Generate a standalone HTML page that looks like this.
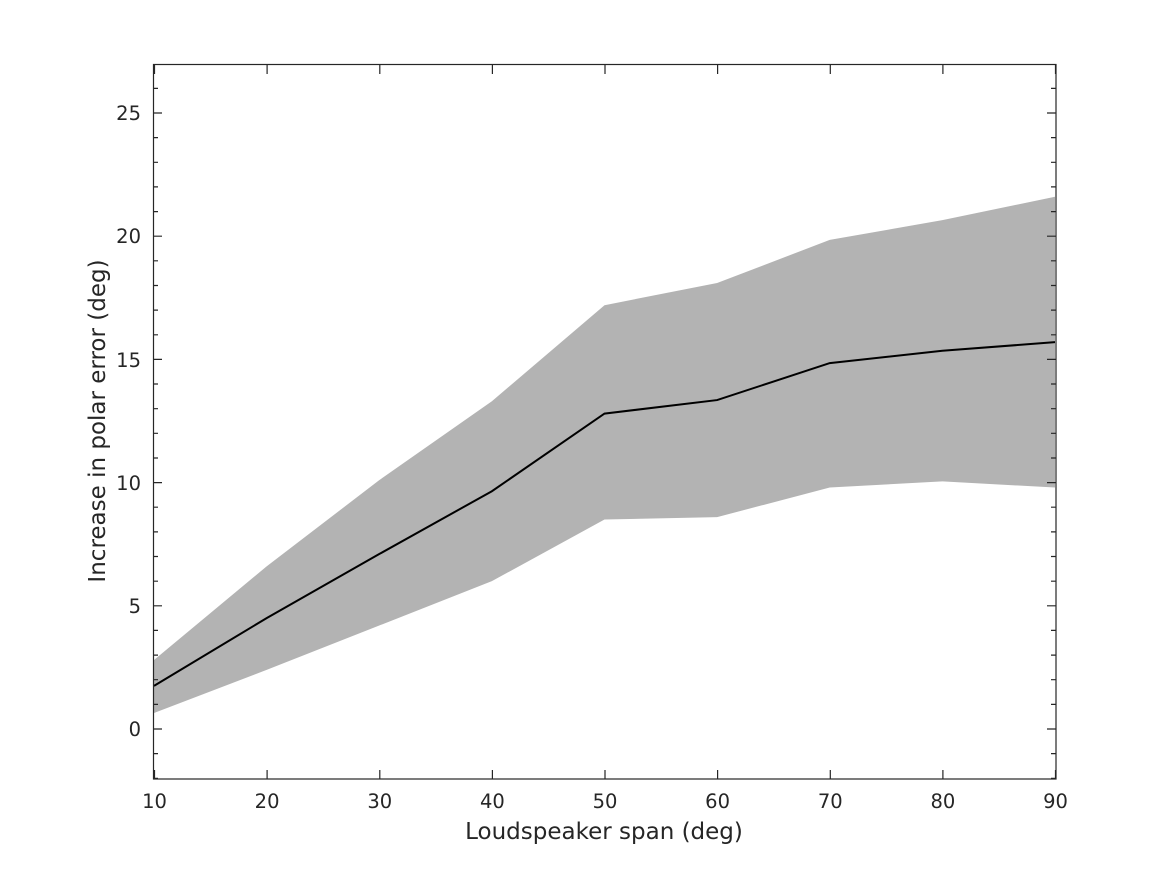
<!DOCTYPE html>
<html><head><meta charset="utf-8"><style>
html,body{margin:0;padding:0;background:#fff;}
svg{display:block;font-family:"DejaVu Sans","Liberation Sans",sans-serif;}
</style></head><body>
<svg width="1167" height="875" viewBox="0 0 1167 875" xmlns="http://www.w3.org/2000/svg">
<rect width="1167" height="875" fill="#fff"/>
<g transform="translate(41.375,729) scale(11.2625,-24.64)">
<polygon fill="#b3b3b3" points="10,2.8 20,6.6 30,10.1 40,13.3 50,17.2 60,18.1 70,19.85 80,20.65 90,21.6 90,9.8 80,10.05 70,9.8 60,8.6 50,8.5 40,6.0 30,4.2 20,2.4 10,0.65"/>
<polyline fill="none" stroke="#000" stroke-width="2" vector-effect="non-scaling-stroke" points="10,1.75 20,4.5 30,7.1 40,9.65 50,12.8 60,13.35 70,14.85 80,15.35 90,15.7"/>
</g>
<g stroke="#262626" stroke-width="1.2" fill="none">
<rect x="153.5" y="64.5" width="902.5" height="714.5"/>
<path d="
M154.5,779v-9 M267.1,779v-9 M379.8,779v-9 M492.4,779v-9 M605,779v-9 M717.6,779v-9 M830.3,779v-9 M942.9,779v-9 M1055.5,779v-9
M154.5,65v9 M267.1,65v9 M379.8,65v9 M492.4,65v9 M605,65v9 M717.6,65v9 M830.3,65v9 M942.9,65v9 M1055.5,65v9
M153,729h9 M153,605.8h9 M153,482.6h9 M153,359.4h9 M153,236.2h9 M153,113h9
M1056,729h-9 M1056,605.8h-9 M1056,482.6h-9 M1056,359.4h-9 M1056,236.2h-9 M1056,113h-9
"/>
<path d="
M153,778.3h5 M153,753.6h5 M153,704.4h5 M153,679.7h5 M153,655.1h5 M153,630.4h5 M153,581.2h5 M153,556.5h5 M153,531.9h5 M153,507.2h5 M153,458h5 M153,433.3h5 M153,408.7h5 M153,384h5 M153,334.8h5 M153,310.1h5 M153,285.5h5 M153,260.8h5 M153,211.6h5 M153,186.9h5 M153,162.3h5 M153,137.6h5 M153,88.4h5
M1056,778.3h-5 M1056,753.6h-5 M1056,704.4h-5 M1056,679.7h-5 M1056,655.1h-5 M1056,630.4h-5 M1056,581.2h-5 M1056,556.5h-5 M1056,531.9h-5 M1056,507.2h-5 M1056,458h-5 M1056,433.3h-5 M1056,408.7h-5 M1056,384h-5 M1056,334.8h-5 M1056,310.1h-5 M1056,285.5h-5 M1056,260.8h-5 M1056,211.6h-5 M1056,186.9h-5 M1056,162.3h-5 M1056,137.6h-5 M1056,88.4h-5
"/>
</g>
<g fill="#262626" font-size="19.5" text-anchor="middle">
<text x="154.5" y="808">10</text><text x="267.1" y="808">20</text><text x="379.8" y="808">30</text><text x="492.4" y="808">40</text><text x="605" y="808">50</text><text x="717.6" y="808">60</text><text x="830.3" y="808">70</text><text x="942.9" y="808">80</text><text x="1055.5" y="808">90</text>
</g>
<g fill="#262626" font-size="19.5" text-anchor="end">
<text x="141" y="736">0</text><text x="141" y="613">5</text><text x="141" y="490">10</text><text x="141" y="367">15</text><text x="141" y="243">20</text><text x="141" y="120">25</text>
</g>
<text x="604" y="839" fill="#262626" font-size="23" text-anchor="middle">Loudspeaker span (deg)</text>
<text transform="translate(105,421) rotate(-90)" fill="#262626" font-size="23" text-anchor="middle">Increase in polar error (deg)</text>
</svg>
</body></html>
